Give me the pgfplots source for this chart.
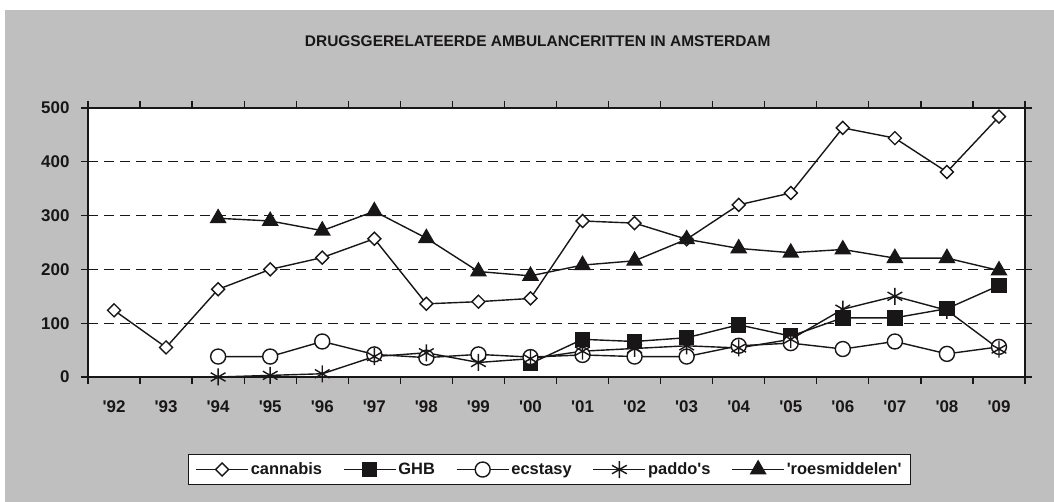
\documentclass[border=0pt]{standalone}
\usepackage{pgfplots}
\pgfplotsset{compat=1.18}
\usepackage{fontspec}
\setmainfont{Liberation Sans}
\definecolor{bggray}{RGB}{191,191,191}
\definecolor{ink}{RGB}{25,22,23}
\newcommand{\q}{\textquotesingle}

\pgfdeclareplotmark{sqdiamond}{%
  \pgfpathmoveto{\pgfqpoint{0pt}{\pgfplotmarksize}}%
  \pgfpathlineto{\pgfqpoint{\pgfplotmarksize}{0pt}}%
  \pgfpathlineto{\pgfqpoint{0pt}{-\pgfplotmarksize}}%
  \pgfpathlineto{\pgfqpoint{-\pgfplotmarksize}{0pt}}%
  \pgfpathclose
  \pgfusepathqfillstroke}

\begin{document}
\begin{tikzpicture}[x=1bp,y=1bp]
\path[use as bounding box, fill=white] (-88,-125) rectangle (966,377);
\fill[bggray] (-83,-125) rectangle (966,367);
\begin{axis}[
  at={(0,0)}, anchor=south west,
  scale only axis, width=937bp, height=269bp,
  xmin=-0.5, xmax=17.5, ymin=0, ymax=500,
  clip=false,
  axis background/.style={fill=white},
  axis line style={ink, line width=1.8bp},
  font=\bfseries\fontsize{17}{20}\selectfont,
  /pgf/number format/assume math mode=true,
  title={DRUGSGERELATEERDE AMBULANCERITTEN IN AMSTERDAM},
  title style={at={(0.480,1.227)}, anchor=center, font=\bfseries\fontsize{15.5}{18}\selectfont, text=ink},
  xtick={0,...,17},
  xticklabels={\q92,\q93,\q94,\q95,\q96,\q97,\q98,\q99,\q00,\q01,\q02,\q03,\q04,\q05,\q06,\q07,\q08,\q09},
  major x tick style={draw=none},
  minor xtick={-0.5,0.5,...,17.5},
  minor x tick style={ink, line width=1.3bp},
  ytick={0,100,...,500},
  major y tick style={ink, line width=1.3bp},
  tick align=outside,
  major tick length=7bp, minor tick length=7bp,
  xticklabel style={yshift=-13bp, text=ink},
  yticklabel style={xshift=-8bp, text=ink},
  ymajorgrids,
  major grid style={ink, line width=0.9bp, dash pattern=on 10bp off 6bp},
  every axis plot/.append style={ink, line width=1.4bp, mark options={solid, line width=1.2bp}},
  legend columns=5,
  legend style={at={(0.4925,-0.344)}, anchor=center, draw=ink, line width=1.3bp,
    fill=white, inner xsep=7bp, inner ysep=6bp, text=ink,
    font=\bfseries\fontsize{16.5}{19}\selectfont,
    /tikz/every even column/.append style={column sep=19bp}},
  legend image code/.code={%
    \draw[mark repeat=2, mark phase=2] plot coordinates {(0bp,0bp) (26bp,0bp) (52bp,0bp)};},
]
% cannabis
\addplot[mark=sqdiamond, mark size=6.5bp, mark options={fill=white}] coordinates {
  (0,124) (1,55) (2,163) (3,200) (4,222) (5,257) (6,136) (7,140) (8,146)
  (9,290) (10,286) (11,256) (12,320) (13,342) (14,463) (15,444) (16,381) (17,484)};
\addlegendentry{cannabis}
% GHB
\addplot[mark=square*, mark size=7bp, mark options={fill=ink}] coordinates {
  (8,25) (9,70) (10,66) (11,73) (12,97) (13,76) (14,110) (15,110) (16,127) (17,170)};
\addlegendentry{GHB}
% ecstasy
\addplot[mark=*, mark size=7.5bp, mark options={fill=white}] coordinates {
  (2,38) (3,38) (4,66) (5,42) (6,36) (7,42) (8,37) (9,41) (10,38) (11,38)
  (12,58) (13,63) (14,52) (15,66) (16,43) (17,56)};
\addlegendentry{ecstasy}
% paddo's
\addplot[mark=asterisk, mark size=8.5bp, mark options={line width=1.4bp}] coordinates {
  (2,0) (3,3) (4,6) (5,38) (6,45) (7,27) (8,34) (9,48) (10,53) (11,58)
  (12,54) (13,70) (14,126) (15,150) (16,124) (17,52)};
\addlegendentry{paddo\q s}
% 'roesmiddelen'
\addplot[mark=triangle*, mark size=8.5bp, mark options={fill=ink}] coordinates {
  (2,295) (3,290) (4,272) (5,308) (6,258) (7,196) (8,188) (9,208) (10,216)
  (11,256) (12,239) (13,231) (14,237) (15,221) (16,221) (17,198)};
\addlegendentry{\q roesmiddelen\q}
\end{axis}
\end{tikzpicture}
\end{document}
